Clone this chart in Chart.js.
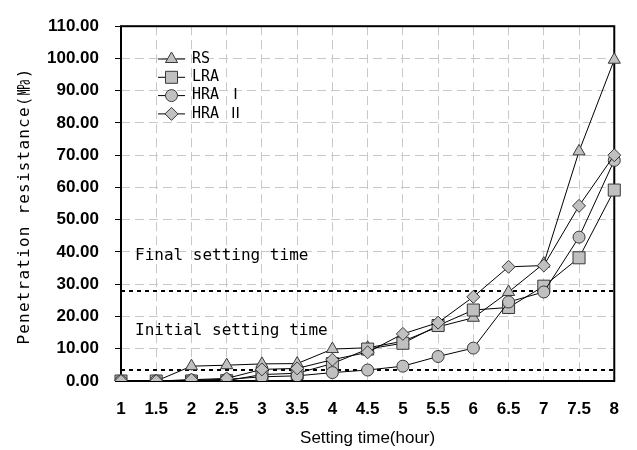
<!DOCTYPE html>
<html>
<head>
<meta charset="utf-8">
<title>Penetration resistance</title>
<script src="https://cdn.jsdelivr.net/npm/chart.js"></script>
<style>
  html, body { margin: 0; padding: 0; background: #fff; }
  canvas { display: block; }
</style>
</head>
<body>
<canvas id="graphique" width="637" height="450"></canvas>
<script>
// Setting time (hour)
var temps = ["1", "1.5", "2", "2.5", "3", "3.5", "4", "4.5", "5", "5.5", "6", "6.5", "7", "7.5", "8"];

// Penetration resistance (MPa) for each mix
var rs   = [0, 0, 4.6, 4.9, 5.3, 5.4, 9.9, 10.3, 12.3, 16.8, 19.6, 27.6, 36.4, 71.2, 99.6];
var lra  = [0, 0, 0, 0.1, 2.0, 2.4, 5.4, 9.9, 11.7, 17.2, 22.0, 22.8, 29.4, 38.2, 59.2];
var hra1 = [0, 0, 0.3, 0.5, 1.3, 1.6, 2.6, 3.4, 4.6, 7.6, 10.2, 24.5, 27.6, 44.6, 68.4];
var hra2 = [0, 0, 0.4, 0.8, 3.6, 3.9, 6.6, 8.9, 14.6, 18.1, 26.1, 35.4, 35.8, 54.3, 70.0];

var yTicks = [0, 10, 20, 30, 40, 50, 60, 70, 80, 90, 100, 110];

// setting thresholds (MPa)
var prisInitial = 3.5;
var prisFinal = 28;

var gris = "#c0c0c0";
var contour = "#383838";
var mono = '"DejaVu Sans Mono", "Noto Sans CJK KR", monospace';
var sans = '"Liberation Sans", Arial, sans-serif';

function serie(label, data, style, rayon, ordre) {
  return {
    label: label,
    data: data,
    borderColor: "#000",
    borderWidth: 1,
    pointStyle: style,
    pointRadius: rayon,
    pointBackgroundColor: gris,
    pointBorderColor: contour,
    pointBorderWidth: 1,
    tension: 0,
    order: ordre
  };
}

var series = [
  serie("RS", rs, "triangle", 7, 4),
  serie("LRA", lra, "rect", 8.5, 3),
  serie("HRA \u2160", hra1, "circle", 6, 2),
  serie("HRA \u2161", hra2, "rectRot", 6.5, 1)
];

// frame, threshold lines, notes, legend and axis titles
var decor = {
  id: "decor",
  beforeDatasetsDraw: function(chart) {
    var ctx = chart.ctx, area = chart.chartArea, y = chart.scales.y;
    ctx.save();

    ctx.strokeStyle = "#000";
    ctx.lineWidth = 2;
    ctx.setLineDash([4, 4]);
    [prisInitial, prisFinal].forEach(function(v) {
      var py = Math.round(y.getPixelForValue(v));
      ctx.beginPath();
      ctx.moveTo(area.left, py);
      ctx.lineTo(area.right, py);
      ctx.stroke();
    });
    ctx.setLineDash([]);

    ctx.fillStyle = "#000";
    ctx.font = "16px " + mono;
    ctx.textBaseline = "middle";
    ctx.textAlign = "left";
    ctx.fillText("Final setting time", area.left + 14, 256);
    ctx.fillText("Initial setting time", area.left + 14, 331);

    ctx.lineWidth = 2;
    ctx.strokeRect(area.left, area.top, area.right - area.left, area.bottom - area.top);
    ctx.restore();
  },
  afterDatasetsDraw: function(chart) {
    var ctx = chart.ctx;
    ctx.save();
    series.forEach(function(ds, i) {
      var ly = 59 + i * 18.3;
      ctx.strokeStyle = "#000";
      ctx.lineWidth = 1;
      ctx.beginPath();
      ctx.moveTo(158, ly);
      ctx.lineTo(185, ly);
      ctx.stroke();
      ctx.fillStyle = gris;
      ctx.strokeStyle = contour;
      Chart.helpers.drawPoint(ctx, {
        pointStyle: ds.pointStyle,
        radius: ds.pointRadius,
        rotation: 0,
        borderWidth: 1
      }, 171.5, ly);
      ctx.fillStyle = "#000";
      ctx.font = "15px " + mono;
      ctx.textBaseline = "middle";
      ctx.textAlign = "left";
      ctx.fillText(ds.label, 192, ly);
    });
    ctx.restore();
  },
  afterDraw: function(chart) {
    var ctx = chart.ctx, area = chart.chartArea;
    ctx.save();
    ctx.fillStyle = "#000";
    ctx.textAlign = "center";
    ctx.textBaseline = "middle";

    ctx.font = "17px " + sans;
    ctx.fillText("Setting time(hour)", (area.left + area.right) / 2, 438);

    ctx.translate(25, 206);
    ctx.rotate(-Math.PI / 2);
    ctx.font = "16px " + mono;
    if ("letterSpacing" in ctx) ctx.letterSpacing = "1.2px";
    ctx.fillText("Penetration resistance(\u33AB)", 0, 0);
    ctx.restore();
  }
};

var ctx = document.getElementById("graphique").getContext("2d");
var chart = new Chart(ctx, {
  type: "line",
  data: {
    labels: temps,
    datasets: series
  },
  options: {
    responsive: false,
    animation: false,
    layout: { padding: { left: 0, right: 18, top: 18, bottom: 0 } },
    plugins: {
      legend: { display: false },
      tooltip: { enabled: false }
    },
    scales: {
      x: {
        type: "category",
        offset: false,
        grid: { color: "#c8c8c8", lineWidth: 1, drawTicks: false },
        border: { display: false, dash: [9, 5] },
        ticks: {
          color: "#000",
          font: { family: sans, size: 17, weight: "bold" },
          padding: 18,
          maxRotation: 0,
          autoSkip: false
        },
        afterFit: function(s) { s.height = 69; }
      },
      y: {
        min: 0,
        max: 110,
        grid: { color: "#c8c8c8", lineWidth: 1, tickColor: "#000", tickLength: 6, tickWidth: 1 },
        border: { display: false, dash: [9, 5] },
        ticks: {
          color: "#000",
          font: { family: sans, size: 17, weight: "bold" },
          padding: 16,
          callback: function(v) { return Number(v).toFixed(2); }
        },
        afterBuildTicks: function(s) {
          s.ticks = yTicks.map(function(v) { return { value: v }; });
        },
        afterFit: function(s) { s.width = 121; }
      }
    }
  },
  plugins: [decor]
});
</script>
</body>
</html>
